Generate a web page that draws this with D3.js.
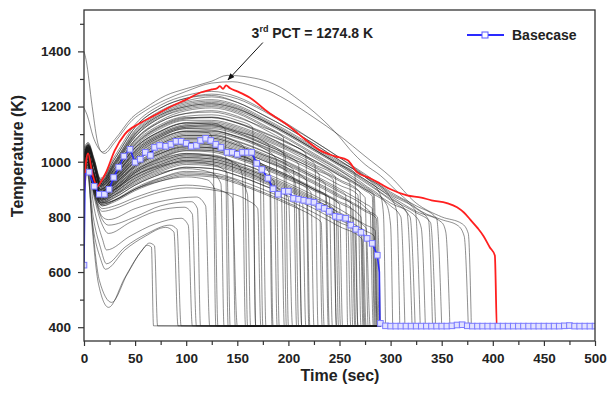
<!DOCTYPE html>
<html>
<head>
<meta charset="utf-8">
<script src="https://cdn.jsdelivr.net/npm/d3@7"></script>
<style>
  body { margin: 0; background: #fff; }
  text { font-family: "Liberation Sans", Arial, sans-serif; font-weight: bold; fill: #222; }
</style>
</head>
<body>
<svg id="chart" width="608" height="394"></svg>
<script>
// uncertainty runs: [time (s), cladding temperature (K)]
const grayRuns = [
  [[0,880],[3,990],[8,760],[14,560],[24,472],[40,580],[55,670],[62,697],[66,690],[68,405]],
  [[0,900],[3,1000],[8,780],[15,570],[27,490],[42,590],[57,680],[64,705],[69,695],[72,405]],
  [[0,860],[3,960],[9,760],[16,650],[21,610],[40,680],[60,730],[80,762],[88,745],[92,405]],
  [[0,870],[3,980],[9,800],[16,690],[22,630],[40,690],[62,740],[84,770],[91,755],[95,405]],
  [[0,890],[3,990],[10,830],[18,720],[22,680],[45,730],[70,775],[95,795],[102,770],[106,405]],
  [[0,900],[3,1000],[10,870],[18,770],[24,740],[45,780],[70,820],[98,835],[106,810],[110,405]],
  [[0,910],[3,1010],[10,880],[18,790],[24,770],[50,800],[75,840],[105,855],[111,830],[114,405]],
  [[0,920],[3,1020],[10,890],[18,800],[24,790],[50,830],[80,860],[110,872],[119,840],[123,405]],
  [[0,930],[3,1030],[9,920],[17,850],[30,860],[50,900],[75,930],[100,945],[120,935],[128,900],[131,405]],
  [[0,940],[3,1030],[9,930],[17,860],[30,880],[50,920],[75,960],[100,975],[125,960],[134,920],[137,405]],
  [[0,960],[3,1040],[9,940],[16,870],[30,900],[50,950],[75,985],[100,1000],[125,990],[140,960],[143,405]],
  [[0,900],[3,1000],[9,900],[18,830],[30,840],[50,870],[75,900],[100,915],[125,905],[145,870],[150,405]],
  [[0,950],[3,1040],[9,950],[16,880],[30,910],[50,970],[75,1010],[100,1030],[125,1020],[150,990],[155,950],[158,405]],
  [[0,920],[3,1020],[9,910],[17,845],[30,860],[50,900],[75,940],[100,960],[130,950],[155,920],[160,880],[163,405]],
  [[0,980],[3,1050],[9,960],[16,890],[30,930],[50,1000],[75,1050],[100,1070],[125,1060],[150,1030],[165,1000],[168,405]],
  [[0,890],[3,990],[10,880],[18,820],[30,830],[50,860],[75,890],[100,905],[130,895],[160,860],[170,830],[173,405]],
  [[0,940],[3,1030],[9,940],[16,875],[30,900],[50,960],[75,1000],[100,1025],[125,1020],[150,995],[175,960],[178,405]],
  [[0,960],[3,1040],[9,950],[16,880],[30,920],[50,985],[75,1030],[100,1055],[125,1050],[150,1025],[175,990],[182,950],[185,405]],
  [[0,970],[3,1045],[9,960],[16,895],[30,950],[50,1030],[75,1090],[100,1120],[125,1115],[150,1090],[175,1050],[188,1010],[191,405]],
  [[0,930],[3,1025],[9,930],[17,860],[30,890],[50,940],[75,980],[100,1005],[125,1000],[150,975],[175,935],[193,890],[196,405]],
  [[0,1000],[4,1050],[10,980],[16,910],[30,960],[50,1050],[75,1110],[100,1140],[125,1135],[150,1110],[175,1075],[197,1020],[200,405]],
  [[0,910],[3,1010],[9,920],[17,850],[30,870],[50,915],[75,955],[100,980],[125,975],[150,950],[175,915],[200,870],[204,405]],
  [[0,950],[3,1035],[9,945],[16,880],[30,920],[50,990],[75,1040],[100,1065],[125,1060],[150,1040],[175,1005],[200,960],[207,920],[210,405]],
  [[0,990],[3,1050],[9,970],[16,900],[30,945],[50,1035],[75,1095],[100,1125],[125,1130],[150,1105],[175,1065],[200,1020],[210,990],[213,405]],
  [[0,920],[3,1015],[9,925],[17,855],[30,880],[50,930],[75,970],[100,995],[125,990],[150,965],[175,930],[200,885],[214,845],[217,405]],
  [[0,960],[3,1040],[9,950],[16,885],[30,925],[50,1000],[75,1055],[100,1080],[125,1080],[150,1055],[175,1020],[200,975],[218,930],[221,405]],
  [[0,940],[3,1030],[9,940],[16,870],[30,900],[50,960],[75,1010],[100,1040],[125,1035],[150,1010],[175,975],[200,935],[222,890],[225,405]],
  [[0,1010],[4,1055],[10,985],[16,915],[30,970],[50,1065],[75,1130],[100,1160],[125,1160],[150,1140],[175,1100],[200,1050],[226,990],[229,405]],
  [[0,900],[3,1000],[9,905],[18,840],[30,855],[50,895],[75,930],[100,950],[125,945],[150,920],[175,885],[200,845],[225,800],[232,780],[235,405]],
  [[0,970],[3,1045],[9,955],[16,890],[30,935],[50,1015],[75,1070],[100,1100],[125,1100],[150,1075],[175,1040],[200,995],[225,945],[236,920],[239,405]],
  [[0,950],[3,1035],[9,945],[16,880],[30,915],[50,980],[75,1030],[100,1055],[125,1050],[150,1025],[175,990],[200,950],[225,900],[240,870],[243,405]],
  [[0,930],[3,1025],[9,930],[17,865],[30,895],[50,950],[75,995],[100,1020],[125,1015],[150,990],[175,955],[200,915],[225,870],[244,830],[247,405]],
  [[0,990],[3,1050],[9,970],[16,900],[30,950],[50,1040],[75,1100],[100,1130],[125,1135],[150,1115],[175,1080],[200,1040],[225,990],[246,945],[249,405]],
  [[0,940],[3,1030],[9,935],[16,870],[30,905],[50,965],[75,1015],[100,1045],[125,1040],[150,1015],[175,980],[200,940],[225,895],[250,845],[253,405]],
  [[0,960],[3,1040],[9,950],[16,885],[30,930],[50,1005],[75,1060],[100,1090],[125,1090],[150,1065],[175,1030],[200,990],[225,945],[250,895],[256,880],[258,405]],
  [[0,920],[3,1015],[9,925],[17,855],[30,880],[50,930],[75,975],[100,1000],[125,995],[150,970],[175,935],[200,895],[225,850],[250,800],[258,780],[261,405]],
  [[0,1000],[4,1050],[10,980],[16,910],[30,960],[50,1055],[75,1120],[100,1150],[125,1150],[150,1130],[175,1095],[200,1055],[225,1005],[250,950],[260,925],[263,405]],
  [[0,950],[3,1035],[9,945],[16,880],[30,920],[50,985],[75,1035],[100,1065],[125,1065],[150,1040],[175,1005],[200,965],[225,920],[250,870],[263,845],[266,405]],
  [[0,910],[3,1010],[9,915],[17,850],[30,870],[50,915],[75,955],[100,980],[125,975],[150,950],[175,915],[200,875],[225,830],[250,780],[265,750],[268,405]],
  [[0,970],[3,1045],[9,955],[16,890],[30,935],[50,1015],[75,1075],[100,1105],[125,1105],[150,1085],[175,1050],[200,1010],[225,965],[250,915],[268,880],[271,405]],
  [[0,940],[3,1030],[9,940],[16,870],[30,905],[50,965],[75,1015],[100,1040],[125,1040],[150,1015],[175,985],[200,945],[225,900],[250,850],[271,800],[274,405]],
  [[0,980],[3,1050],[9,965],[16,895],[30,945],[50,1030],[75,1090],[100,1120],[125,1120],[150,1100],[175,1065],[200,1025],[225,980],[250,930],[275,870],[278,405]],
  [[0,930],[3,1025],[9,930],[17,865],[30,890],[50,945],[75,990],[100,1015],[125,1010],[150,985],[175,950],[200,910],[225,865],[250,815],[276,760],[280,405]],
  [[0,960],[3,1040],[9,950],[16,885],[30,925],[50,1000],[75,1055],[100,1085],[125,1085],[150,1060],[175,1025],[200,985],[225,940],[250,890],[275,835],[280,815],[283,405]],
  [[0,990],[3,1050],[9,970],[16,900],[30,955],[50,1045],[75,1105],[100,1135],[125,1140],[150,1120],[175,1085],[200,1045],[225,1000],[250,950],[275,895],[282,875],[285,405]],
  [[0,920],[3,1020],[9,925],[17,860],[30,885],[50,935],[75,980],[100,1005],[125,1000],[150,975],[175,940],[200,900],[225,855],[250,805],[275,750],[284,730],[287,405]],
  [[0,950],[3,1035],[9,945],[16,880],[30,918],[50,985],[75,1040],[100,1070],[125,1070],[150,1045],[175,1010],[200,970],[225,925],[250,875],[275,820],[286,795],[289,405]],
  [[0,980],[3,1045],[9,960],[16,890],[30,940],[50,1025],[75,1085],[100,1110],[122,1105],[126,1080],[129,405]],
  [[0,1000],[4,1050],[10,975],[16,905],[30,960],[50,1050],[75,1110],[100,1140],[125,1140],[138,1120],[141,405]],
  [[0,940],[3,1030],[9,935],[16,870],[30,900],[50,960],[75,1005],[100,1030],[125,1025],[145,1000],[148,405]],
  [[0,970],[3,1045],[9,955],[16,890],[30,935],[50,1010],[75,1065],[100,1095],[125,1095],[150,1070],[157,1050],[160,405]],
  [[0,1010],[4,1055],[10,985],[16,915],[30,975],[50,1070],[75,1135],[100,1165],[125,1170],[150,1150],[165,1125],[168,405]],
  [[0,950],[3,1035],[9,945],[16,880],[30,915],[50,980],[75,1030],[100,1060],[125,1055],[150,1030],[172,1000],[175,405]],
  [[0,990],[3,1050],[9,970],[16,900],[30,950],[50,1040],[75,1100],[100,1130],[125,1130],[150,1110],[175,1075],[181,1060],[184,405]],
  [[0,930],[3,1025],[9,930],[17,865],[30,895],[50,950],[75,990],[100,1015],[125,1010],[150,985],[175,950],[186,930],[189,405]],
  [[0,1020],[4,1058],[10,990],[16,920],[30,980],[50,1080],[75,1145],[100,1175],[125,1180],[150,1160],[175,1125],[195,1090],[198,405]],
  [[0,960],[3,1040],[9,950],[16,885],[30,928],[50,1000],[75,1055],[100,1085],[125,1085],[150,1060],[175,1025],[200,985],[205,970],[208,405]],
  [[0,900],[3,1000],[9,905],[18,840],[30,860],[50,900],[75,935],[100,955],[125,950],[150,925],[175,890],[200,850],[210,830],[213,405]],
  [[0,1000],[4,1050],[10,980],[16,910],[30,965],[50,1060],[75,1125],[100,1155],[125,1160],[150,1140],[175,1105],[200,1065],[217,1030],[220,405]],
  [[0,970],[3,1045],[9,955],[16,890],[30,938],[50,1020],[75,1080],[100,1110],[125,1110],[150,1090],[175,1055],[200,1015],[225,970],[230,955],[233,405]],
  [[0,945],[3,1032],[9,942],[16,876],[30,910],[50,975],[75,1025],[100,1052],[125,1050],[150,1025],[175,990],[200,950],[225,905],[250,855],[262,830],[265,405]],
  [[0,985],[3,1048],[9,968],[16,898],[30,948],[50,1035],[75,1095],[100,1125],[125,1125],[150,1105],[175,1070],[200,1030],[225,985],[250,935],[270,890],[273,405]],
  [[0,915],[3,1012],[9,920],[17,852],[30,875],[50,925],[75,965],[100,990],[125,985],[150,960],[175,925],[200,885],[225,840],[250,790],[273,735],[276,405]],
  [[0,965],[3,1042],[9,952],[16,887],[30,932],[50,1010],[75,1065],[100,1095],[125,1095],[150,1072],[175,1038],[200,998],[225,952],[250,902],[275,848],[282,830],[284,405]],
  [[0,935],[3,1028],[9,935],[17,868],[30,898],[50,955],[75,1000],[100,1025],[125,1022],[150,998],[175,962],[200,922],[225,878],[250,828],[275,772],[285,750],[288,405]],
  [[0,1005],[4,1052],[10,982],[16,912],[30,968],[50,1062],[75,1128],[100,1158],[125,1162],[150,1142],[175,1108],[200,1068],[225,1020],[250,968],[275,905],[284,880],[287,405]],
  [[0,955],[3,1038],[9,948],[16,882],[30,922],[50,992],[75,1045],[100,1075],[125,1075],[150,1050],[175,1015],[200,975],[225,930],[250,880],[275,825],[287,800],[290,405]],
  [[0,925],[3,1020],[9,928],[17,862],[30,888],[50,940],[75,985],[100,1010],[125,1005],[150,980],[175,945],[200,905],[225,860],[248,815],[251,405]],
  [[0,975],[3,1046],[9,958],[16,892],[30,940],[50,1022],[75,1082],[100,1112],[125,1112],[150,1092],[175,1058],[200,1018],[225,972],[244,935],[247,405]],
  [[0,945],[3,1032],[9,940],[16,875],[30,908],[50,970],[75,1020],[100,1048],[125,1045],[150,1020],[175,985],[200,945],[225,900],[237,875],[240,405]],
  [[0,995],[3,1052],[9,975],[16,905],[30,958],[50,1050],[75,1112],[100,1142],[125,1145],[150,1125],[175,1090],[200,1050],[225,1005],[250,955],[275,900],[283,880],[286,405]],
  [[0,905],[3,1005],[9,910],[17,845],[30,862],[50,905],[75,942],[100,965],[125,960],[150,935],[175,900],[200,860],[225,815],[250,765],[272,720],[275,405]],
  [[0,1020],[4,1060],[10,995],[16,925],[30,990],[50,1100],[75,1170],[100,1200],[125,1210],[150,1190],[175,1150],[200,1100],[225,1045],[250,990],[265,960],[268,405]],
  [[0,1030],[4,1060],[10,1000],[16,930],[30,1000],[50,1110],[75,1180],[100,1215],[125,1225],[150,1205],[175,1160],[200,1110],[225,1055],[250,1000],[275,945],[290,880],[293,810],[295,405]],
  [[0,1010],[4,1055],[10,990],[16,920],[30,985],[50,1090],[75,1160],[100,1190],[125,1200],[150,1180],[175,1135],[200,1085],[225,1030],[250,975],[275,915],[296,845],[300,770],[302,405]],
  [[0,1040],[4,1065],[10,1005],[16,935],[30,1010],[50,1125],[75,1195],[100,1230],[125,1240],[150,1215],[175,1170],[200,1120],[225,1065],[250,1005],[275,945],[300,870],[306,820],[309,405]],
  [[0,1000],[4,1050],[10,985],[16,915],[30,975],[50,1075],[75,1145],[100,1175],[125,1185],[150,1165],[175,1120],[200,1070],[225,1015],[250,960],[275,900],[300,840],[310,800],[314,405]],
  [[0,1020],[4,1060],[10,995],[16,925],[30,995],[50,1105],[75,1175],[100,1210],[125,1220],[150,1200],[175,1155],[200,1105],[225,1050],[250,995],[275,935],[300,870],[316,815],[321,405]],
  [[0,1010],[4,1055],[10,990],[16,920],[30,985],[50,1090],[75,1160],[100,1195],[125,1205],[150,1185],[175,1145],[200,1095],[225,1040],[250,985],[275,925],[300,860],[319,800],[324,405]],
  [[0,1050],[4,1070],[10,1010],[16,940],[30,1020],[50,1135],[75,1205],[100,1240],[125,1255],[150,1235],[175,1190],[200,1135],[225,1075],[250,1015],[275,950],[300,885],[324,825],[329,405]],
  [[0,1000],[4,1050],[10,985],[16,915],[30,975],[50,1080],[75,1150],[100,1185],[125,1195],[150,1175],[175,1130],[200,1080],[225,1025],[250,970],[275,910],[300,850],[325,800],[330,760],[334,405]],
  [[0,1030],[4,1062],[10,1000],[16,930],[30,1000],[50,1115],[75,1185],[100,1220],[125,1235],[150,1215],[175,1170],[200,1120],[225,1065],[250,1005],[275,945],[300,880],[325,830],[337,790],[341,405]],
  [[0,1020],[4,1058],[10,995],[16,925],[30,995],[50,1100],[75,1170],[100,1205],[125,1215],[150,1195],[175,1150],[200,1100],[225,1045],[250,990],[275,930],[300,865],[325,815],[339,780],[344,405]],
  [[0,1040],[4,1065],[10,1005],[16,935],[30,1010],[50,1125],[75,1195],[100,1230],[125,1245],[150,1228],[175,1185],[200,1130],[225,1075],[250,1015],[275,955],[300,890],[325,840],[345,795],[350,405]],
  [[0,1010],[4,1055],[10,990],[16,920],[30,990],[50,1095],[75,1165],[100,1200],[125,1210],[150,1192],[175,1150],[200,1100],[225,1045],[250,990],[275,935],[300,875],[325,820],[350,780],[354,745],[358,405]],
  [[0,1400],[2,1370],[8,1200],[14,1060],[18,1035],[30,1080],[47,1160],[60,1195],[80,1240],[100,1265],[125,1292],[140,1313],[162,1306],[180,1290],[192,1270],[211,1222],[231,1161],[250,1090],[260,1045],[275,990],[290,950],[310,880],[330,820],[350,790],[366,768],[372,730],[376,405]],
  [[0,1195],[3,1170],[9,1090],[16,1040],[20,1030],[30,1070],[47,1150],[60,1185],[80,1225],[100,1255],[125,1285],[145,1290],[165,1275],[185,1250],[200,1220],[225,1160],[250,1095],[275,1020],[300,945],[325,850],[350,800],[370,775],[376,740],[379,405]]
];

// third-highest PCT run
const pctRun = [[0,880],[2,1000],[4,1030],[8,960],[13,910],[17,930],[22,965],[30,1040],[40,1100],[55,1140],[70,1170],[85,1200],[100,1225],[114,1251],[125,1262],[130,1266],[133,1274],[136,1264],[139,1277],[143,1266],[150,1255],[162,1233],[180,1180],[202,1125],[215,1085],[231,1041],[245,1020],[258,1005],[267,962],[280,940],[290,920],[300,900],[316,878],[330,870],[340,860],[355,850],[365,835],[372,815],[378,790],[385,760],[391,730],[397,690],[402,660],[404,405],[406,402]];

// base case, marked points
const baseTime = [0,5,10,15,20,24.5,29,34,39,45,50,55,60,65,69,74,80,85,90,95,100,105,110,114,119,124,129,134,140,145,150,155,160,164,169,174,180,185,190,196,200,205,210,215,220,225,230,235,240,246,250,256,261,266,271,277,282,287,
  290,295,300,305,310,315,320,325,330,335,340,345,350,355,360,365,370,375,380,385,390,395,400,405,410,415,420,425,430,435,440,445,450,455,460,465,470,475,480,485,490,495,500];
const baseTemp = [625,962,911,882,882,900,943,980,1020,1045,998,1009,1034,1023,1052,1059,1056,1063,1074,1074,1067,1056,1059,1077,1085,1077,1063,1052,1034,1034,1027,1034,1034,1034,994,972,940,902,882,893,893,867,864,860,856,853,838,831,820,802,799,795,770,755,744,722,704,661,
  414,405,404,404,404,404,404,404,404,404,404,404,404,404,405,408,409,405,404,404,404,404,404,404,404,404,404,404,404,404,404,404,404,404,404,404,405,406,404,404,404,404,404];
// base case, unmarked points on the line
const baseExtra = [[1,955],[289,600],[289.5,420]];

const xMajor = [0,50,100,150,200,250,300,350,400,450,500];
const xMinor = [25,75,125,175,225,275,325,375,425,475];
const yMajor = [400,600,800,1000,1200,1400];
const yMinor = [500,700,900,1100,1300,1500];

const runEnd = 290;      // time the quenched runs are carried to
const floorTemp = 403;   // temperature after quench

const svg = d3.select('#chart');
const x = d3.scaleLinear().domain([0, 500]).range([84, 595]);
const y = d3.scaleLinear().domain([350, 1550]).range([341, 10]);

svg.append('rect').attr('width', 608).attr('height', 394).attr('fill', '#fff');

svg.append('defs').append('clipPath').attr('id', 'plot')
  .append('rect').attr('x', 84).attr('y', 10).attr('width', 511).attr('height', 331);

const line = d3.line().x(d => x(d[0])).y(d => y(d[1])).curve(d3.curveMonotoneX);

const plot = svg.append('g').attr('clip-path', 'url(#plot)');

plot.selectAll('path.run')
  .data(grayRuns)
  .enter()
  .append('path')
  .attr('class', 'run')
  .attr('d', d => {
    const last = d[d.length - 1];
    return line(last[0] < runEnd ? d.concat([[runEnd, floorTemp]]) : d);
  })
  .attr('fill', 'none')
  .attr('stroke', '#1a1a1a')
  .attr('stroke-opacity', 0.62)
  .attr('stroke-width', 0.8);

plot.append('path')
  .attr('d', line(pctRun))
  .attr('fill', 'none')
  .attr('stroke', '#ff1f1f')
  .attr('stroke-width', 1.8);

const basePts = baseTime.map((t, i) => [t, baseTemp[i]]);
const baseLine = basePts.concat(baseExtra).sort((a, b) => a[0] - b[0]);

plot.append('path')
  .attr('d', d3.line().x(d => x(d[0])).y(d => y(d[1]))(baseLine))
  .attr('fill', 'none')
  .attr('stroke', '#2a2aff')
  .attr('stroke-width', 1.6);

plot.selectAll('rect.mark')
  .data(basePts)
  .enter()
  .append('rect')
  .attr('class', 'mark')
  .attr('x', d => x(d[0]) - 2.8)
  .attr('y', d => y(d[1]) - 2.8)
  .attr('width', 5.6)
  .attr('height', 5.6)
  .attr('fill', '#e2e2ff')
  .attr('stroke', '#7a7aff')
  .attr('stroke-width', 1);

// frame
svg.append('rect')
  .attr('x', 84).attr('y', 10).attr('width', 511).attr('height', 331)
  .attr('fill', 'none').attr('stroke', '#333').attr('stroke-width', 1.3);

// axes
const styleAxis = g => {
  g.select('.domain').remove();
  g.selectAll('line').attr('stroke', '#333').attr('stroke-width', 1.2);
  g.selectAll('text').attr('font-size', 13.5).attr('fill', '#222')
    .attr('font-family', '"Liberation Sans", Arial, sans-serif').attr('font-weight', 'bold');
};

svg.append('g').attr('transform', 'translate(0,341)')
  .call(d3.axisBottom(x).tickValues(xMajor).tickSize(5).tickPadding(7).tickFormat(d3.format('d')))
  .call(styleAxis);
svg.append('g').attr('transform', 'translate(0,341)')
  .call(d3.axisBottom(x).tickValues(xMinor).tickSize(4).tickFormat(''))
  .call(styleAxis);
svg.append('g').attr('transform', 'translate(84,0)')
  .call(d3.axisLeft(y).tickValues(yMajor).tickSize(6).tickPadding(7).tickFormat(d3.format('d')))
  .call(styleAxis);
svg.append('g').attr('transform', 'translate(84,0)')
  .call(d3.axisLeft(y).tickValues(yMinor).tickSize(4).tickFormat(''))
  .call(styleAxis);

// axis titles
svg.append('text')
  .attr('x', 340).attr('y', 381)
  .attr('text-anchor', 'middle')
  .attr('font-size', 16)
  .text('Time (sec)');

svg.append('text')
  .attr('transform', 'translate(23,156) rotate(-90)')
  .attr('text-anchor', 'middle')
  .attr('font-size', 16)
  .text('Temperature (K)');

// legend
const legend = svg.append('g');
legend.append('line')
  .attr('x1', 467).attr('x2', 504).attr('y1', 35).attr('y2', 35)
  .attr('stroke', '#2a2aff').attr('stroke-width', 2);
legend.append('rect')
  .attr('x', 482).attr('y', 32).attr('width', 6).attr('height', 6)
  .attr('fill', '#fff').attr('stroke', '#5a5aff').attr('stroke-width', 1);
legend.append('text')
  .attr('x', 512).attr('y', 40)
  .attr('font-size', 14)
  .text('Basecase');

// annotation
svg.append('defs').append('marker')
  .attr('id', 'arrow')
  .attr('viewBox', '0 0 10 10')
  .attr('refX', 9).attr('refY', 5)
  .attr('markerWidth', 7).attr('markerHeight', 7)
  .attr('orient', 'auto')
  .append('path').attr('d', 'M0,1L10,5L0,9Z').attr('fill', '#111');

svg.append('line')
  .attr('x1', x(175)).attr('y1', y(1432))
  .attr('x2', x(141)).attr('y2', y(1297))
  .attr('stroke', '#111').attr('stroke-width', 1)
  .attr('marker-end', 'url(#arrow)');

const note = svg.append('text')
  .attr('x', x(164)).attr('y', y(1450))
  .attr('font-size', 14);
note.append('tspan').text('3');
note.append('tspan').attr('font-size', 9).attr('dy', -6).text('rd');
note.append('tspan').attr('dy', 6).text(' PCT = 1274.8 K');
</script>
</body>
</html>
